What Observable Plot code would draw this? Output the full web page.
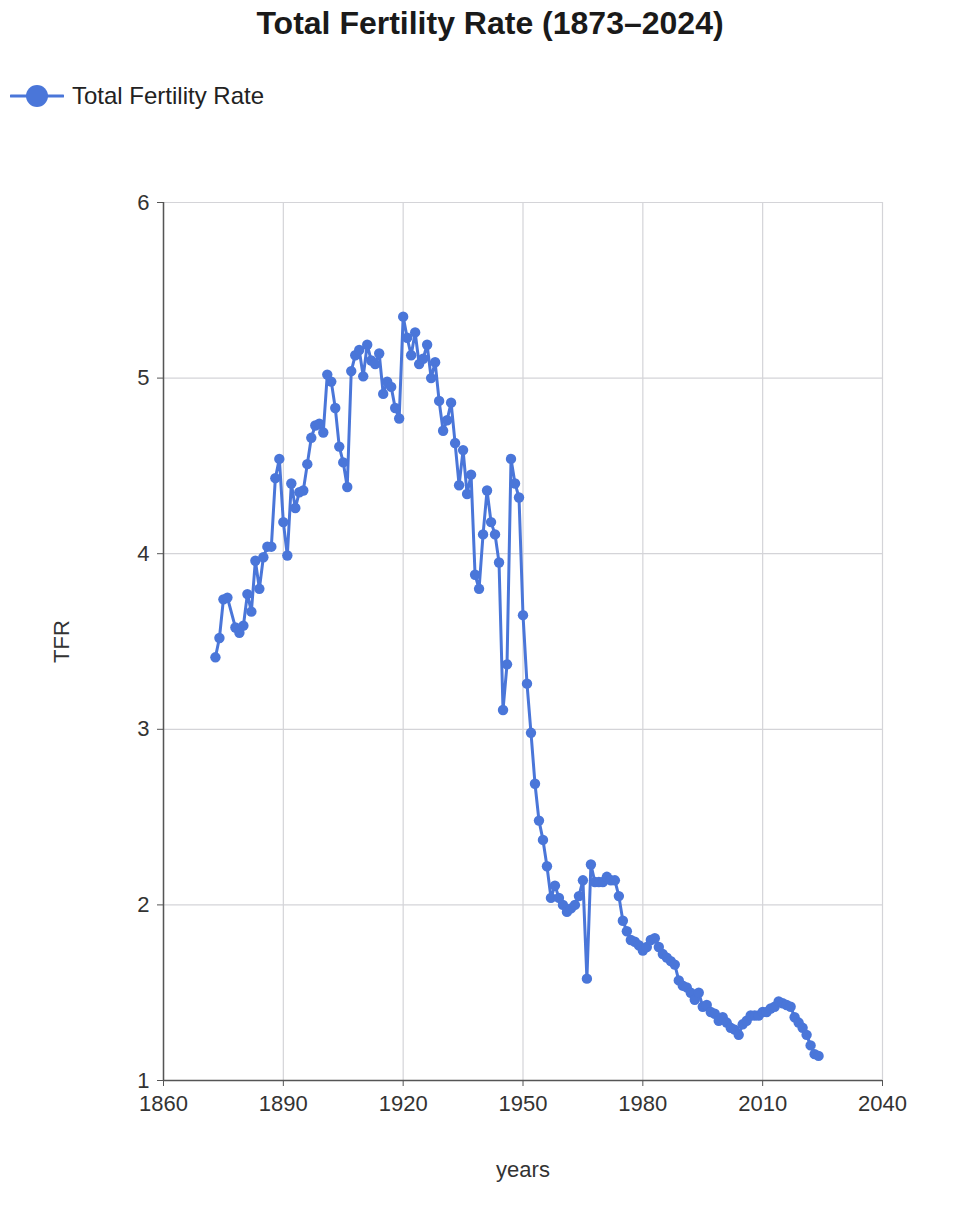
<!DOCTYPE html>
<html>
<head>
<meta charset="utf-8">
<script src="https://cdn.jsdelivr.net/npm/d3@7"></script>
<script src="https://cdn.jsdelivr.net/npm/@observablehq/plot@0.6"></script>
<style>
  html, body { margin: 0; padding: 0; background: #fff; }
  body { width: 980px; height: 1218px; font-family: "Liberation Sans", Arial, Helvetica, sans-serif; }
  #title { position: absolute; left: 0; top: 5px; width: 980px; text-align: center; font-weight: bold; font-size: 32px; color: #1a1a1a; }
  #legend { position: absolute; left: 10px; top: 82px; display: flex; align-items: center; font-size: 24px; color: #222; }
  #legend span { margin-left: 8px; }
  #chart { position: absolute; left: 0; top: 130px; }
</style>
</head>
<body>
<div id="title">Total Fertility Rate (1873–2024)</div>
<div id="legend">
  <svg width="54" height="26"><line x1="1" y1="13" x2="53" y2="13" stroke="#4a76d9" stroke-width="3" stroke-linecap="round"/><circle cx="27" cy="13" r="11" fill="#4a76d9"/></svg>
  <span>Total Fertility Rate</span>
</div>
<div id="chart"></div>
<script>
const years = [1873,1874,1875,1876,1878,1879,1880,1881,1882,1883,1884,1885,1886,1887,1888,1889,
1890,1891,1892,1893,1894,1895,1896,1897,1898,1899,
1900,1901,1902,1903,1904,1905,1906,1907,1908,1909,
1910,1911,1912,1913,1914,1915,1916,1917,1918,1919,
1920,1921,1922,1923,1924,1925,1926,1927,1928,1929,
1930,1931,1932,1933,1934,1935,1936,1937,1938,1939,
1940,1941,1942,1943,1944,1945,1946,1947,1948,1949,
1950,1951,1952,1953,1954,1955,1956,1957,1958,1959,
1960,1961,1962,1963,1964,1965,1966,1967,1968,1969,
1970,1971,1972,1973,1974,1975,1976,1977,1978,1979,
1980,1981,1982,1983,1984,1985,1986,1987,1988,1989,
1990,1991,1992,1993,1994,1995,1996,1997,1998,1999,
2000,2001,2002,2003,2004,2005,2006,2007,2008,2009,
2010,2011,2012,2013,2014,2015,2016,2017,2018,2019,
2020,2021,2022,2023,2024];
const tfr = [3.41,3.52,3.74,3.75,3.58,3.55,3.59,3.77,3.67,3.96,3.80,3.98,4.04,4.04,4.43,4.54,
4.18,3.99,4.40,4.26,4.35,4.36,4.51,4.66,4.73,4.74,
4.69,5.02,4.98,4.83,4.61,4.52,4.38,5.04,5.13,5.16,
5.01,5.19,5.10,5.08,5.14,4.91,4.98,4.95,4.83,4.77,
5.35,5.23,5.13,5.26,5.08,5.11,5.19,5.00,5.09,4.87,
4.70,4.76,4.86,4.63,4.39,4.59,4.34,4.45,3.88,3.80,
4.11,4.36,4.18,4.11,3.95,3.11,3.37,4.54,4.40,4.32,
3.65,3.26,2.98,2.69,2.48,2.37,2.22,2.04,2.11,2.04,
2.00,1.96,1.98,2.00,2.05,2.14,1.58,2.23,2.13,2.13,
2.13,2.16,2.14,2.14,2.05,1.91,1.85,1.80,1.79,1.77,
1.74,1.76,1.80,1.81,1.76,1.72,1.70,1.68,1.66,1.57,
1.54,1.53,1.50,1.46,1.50,1.42,1.43,1.39,1.38,1.34,
1.36,1.33,1.30,1.29,1.26,1.32,1.34,1.37,1.37,1.37,
1.39,1.39,1.41,1.42,1.45,1.44,1.43,1.42,1.36,1.33,
1.30,1.26,1.20,1.15,1.14];
const xTicks = [1860,1890,1920,1950,1980,2010,2040];
const yTicks = [1,2,3,4,5,6];

const data = years.map((y, i) => ({year: y, tfr: tfr[i]}));
const blue = "#4a76d9";

const chart = Plot.plot({
  width: 980,
  height: 1088,
  marginLeft: 163,
  marginRight: 98,
  marginTop: 72,
  marginBottom: 138,
  style: {fontFamily: "'Liberation Sans', Arial, Helvetica, sans-serif", fontSize: "22px", color: "#333", background: "#fff"},
  x: {domain: [1860, 2040]},
  y: {domain: [1, 6]},
  marks: [
    Plot.gridX(xTicks, {stroke: "#d4d4d8", strokeOpacity: 1, strokeWidth: 1.2}),
    Plot.gridY(yTicks, {stroke: "#d4d4d8", strokeOpacity: 1, strokeWidth: 1.2}),
    Plot.axisX({ticks: xTicks, tickFormat: d => String(d), tickSize: 6, tickPadding: 9, stroke: "#555",
      label: "years", labelAnchor: "center", labelArrow: "none", labelOffset: 96, fontSize: 22}),
    Plot.axisY({ticks: yTicks, tickFormat: d => String(d), tickSize: 6, tickPadding: 8, stroke: "#555",
      label: "TFR", labelAnchor: "center", labelArrow: "none", labelOffset: 110, fontSize: 22}),
    Plot.ruleX([1860], {stroke: "#555", strokeWidth: 1.5}),
    Plot.ruleY([1], {stroke: "#555", strokeWidth: 1.5}),
    Plot.line(data, {x: "year", y: "tfr", stroke: blue, strokeWidth: 3}),
    Plot.dot(data, {x: "year", y: "tfr", fill: blue, r: 5.2})
  ]
});
document.getElementById("chart").appendChild(chart);
</script>
</body>
</html>
